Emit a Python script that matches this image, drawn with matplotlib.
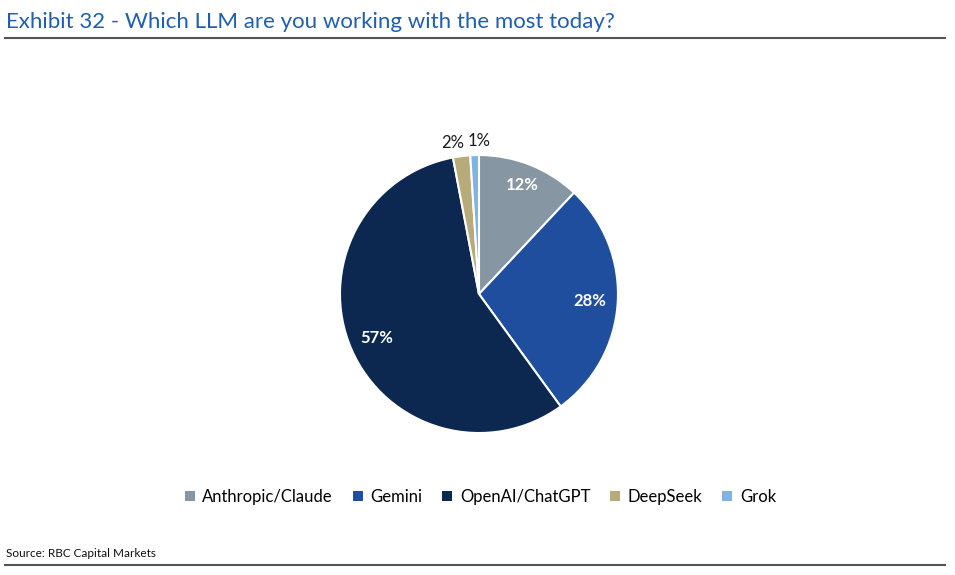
import numpy as np
import matplotlib.pyplot as plt
from matplotlib.lines import Line2D
from matplotlib.patches import Patch

labels = ["Anthropic/Claude", "Gemini", "OpenAI/ChatGPT", "DeepSeek", "Grok"]
shares = [12, 28, 57, 2, 1]
colors = ["#8796a3", "#1f4e9f", "#0c2750", "#b8ab7b", "#7fb2e5"]

plt.rcParams["font.family"] = ["Lato", "DejaVu Sans"]

fig = plt.figure(figsize=(9.55, 5.75), dpi=100)

# pie axes placed so the pie sits at the reference centre
ax = fig.add_axes([0.3196, 0.1865, 0.3639, 0.6043])
wedges, _ = ax.pie(
    shares,
    colors=colors,
    startangle=90,
    counterclock=False,
    wedgeprops=dict(edgecolor="white", linewidth=1.5),
)
ax.set_xlim(-1.25, 1.25)
ax.set_ylim(-1.25, 1.25)
ax.set_aspect("equal")
ax.axis("off")

for wedge, share in zip(wedges, shares):
    mid = np.deg2rad((wedge.theta1 + wedge.theta2) / 2)
    if share >= 5:
        r = 0.84 if share < 20 else 0.8
        ax.text(r * np.cos(mid), r * np.sin(mid), f"{share}%",
                ha="center", va="center", color="white",
                fontsize=12, fontweight="bold")
    else:
        # small slices labelled outside, nudged apart
        shift = 0.05 if share == 2 else -0.035
        r = 1.1
        ax.text(r * np.cos(mid + shift), r * np.sin(mid + shift), f"{share}%",
                ha="center", va="center", color="#1a1a1a", fontsize=12)

handles = [Patch(facecolor=c, edgecolor="none") for c in colors]
fig.legend(handles, labels, loc="center", bbox_to_anchor=(0.503, 0.136),
           ncol=5, frameon=False, fontsize=12, handlelength=0.6,
           handleheight=0.6, handletextpad=0.45, columnspacing=1.2)

fig.text(0.006, 0.962, "Exhibit 32 - Which LLM are you working with the most today?",
         color="#1f5fae", fontsize=16, ha="left", va="center")
fig.add_artist(Line2D([0.005, 0.99], [0.934, 0.934], color="#555555", linewidth=1.5))

fig.text(0.006, 0.038, "Source: RBC Capital Markets", color="#111111",
         fontsize=8.5, ha="left", va="center")
fig.add_artist(Line2D([0.005, 0.99], [0.017, 0.017], color="#555555", linewidth=1.5))

fig.savefig("out.png", dpi=100)
